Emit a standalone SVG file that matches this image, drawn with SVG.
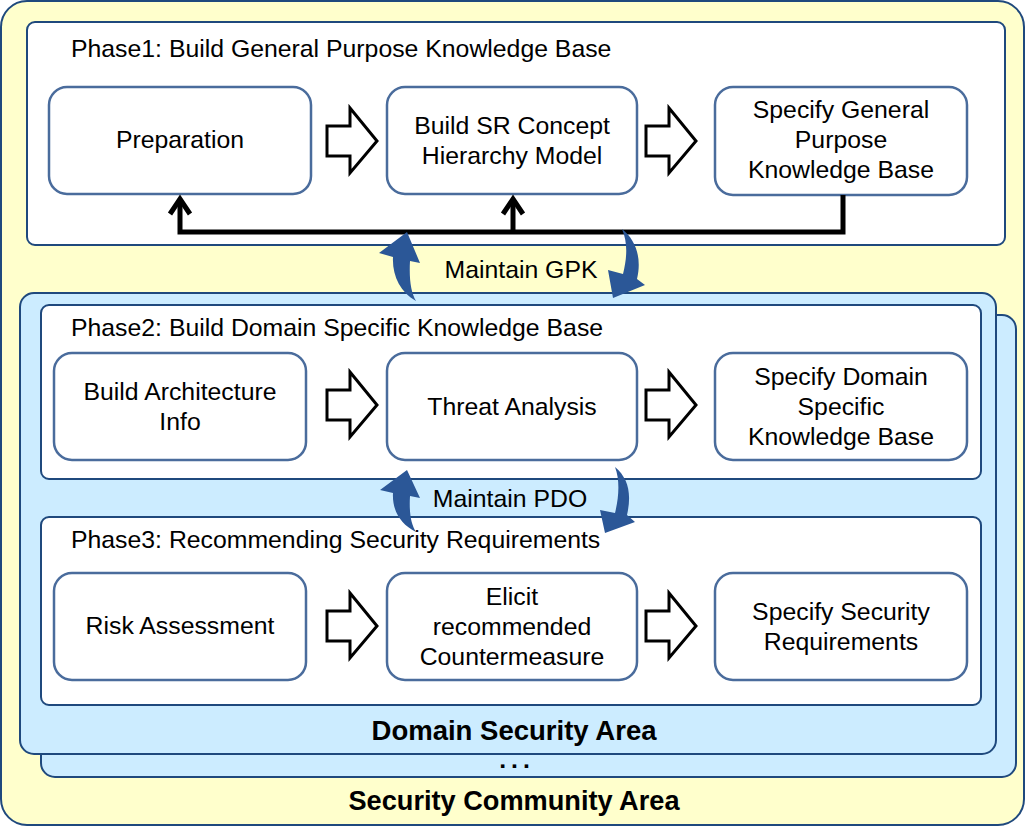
<svg xmlns="http://www.w3.org/2000/svg" xmlns:xlink="http://www.w3.org/1999/xlink" width="1026" height="834" viewBox="0 0 1026 834">
<style>
.area{stroke:#1F497D;stroke-width:2}
.yellow{fill:#FFFFCC}
.blue{fill:#CCECFF}
.phase{fill:#FFFFFF;stroke:#1F497D;stroke-width:2}
.box{fill:#FFFFFF;stroke:#4A6C9C;stroke-width:2.5}
.t{font-family:"Liberation Sans",Arial,sans-serif;font-size:24.8px;fill:#000}
.c{text-anchor:middle}
.b{font-weight:bold;font-size:28px}
.hollow{fill:#FFFFFF;stroke:#000;stroke-width:3;stroke-linejoin:miter}
.fb{fill:none;stroke:#000;stroke-width:5;stroke-linejoin:miter}
.curve{fill:#2B5797}
</style>
<defs>
<path id="harrow" d="M0 -15 L23 -15 L23 -33 L50 0 L23 32 L23 15 L0 15 Z"/>
<marker id="chev" markerUnits="userSpaceOnUse" markerWidth="40" markerHeight="40" refX="0" refY="0" orient="auto" overflow="visible">
<path d="M-15 -10 L0 0 L-15 10" fill="none" stroke="#000" stroke-width="5"/>
</marker>
</defs>

<g id="security-community-area">
<rect class="area yellow" x="1" y="1" width="1023" height="824" rx="26"/>
<text class="t b c" x="514" y="810" textLength="331" lengthAdjust="spacingAndGlyphs">Security Community Area</text>
</g>
<g id="domain-security-area-back">
<rect class="area blue" x="41" y="315" width="975" height="462" rx="14"/>
<text class="t c" x="517" y="768" font-size="18" font-weight="bold" letter-spacing="5">...</text>
</g>
<g id="domain-security-area">
<rect class="area blue" x="20" y="293" width="976" height="461" rx="14"/>
<text class="t b c" x="514" y="740" textLength="285" lengthAdjust="spacingAndGlyphs">Domain Security Area</text>
</g>

<g id="phase1">
<rect class="phase" x="27" y="22" width="978" height="223" rx="8"/>
<text class="t" x="71" y="57">Phase1: Build General Purpose Knowledge Base</text>
</g>
<g id="phase2">
<rect class="phase" x="41" y="305" width="940" height="174" rx="8"/>
<text class="t" x="71" y="336">Phase2: Build Domain Specific Knowledge Base</text>
</g>
<g id="phase3">
<rect class="phase" x="41" y="517" width="940" height="188" rx="8"/>
<text class="t" x="71" y="548">Phase3: Recommending Security Requirements</text>
</g>

<g id="preparation">
<rect class="box" x="49" y="87" width="262" height="107" rx="18"/>
<text class="t c" x="180" y="148">Preparation</text>
</g>
<g id="build-sr-concept">
<rect class="box" x="387" y="87" width="250" height="107" rx="18"/>
<text class="t c" x="512" y="134">Build SR Concept</text>
<text class="t c" x="512" y="164">Hierarchy Model</text>
</g>
<g id="specify-gpk">
<rect class="box" x="715" y="87" width="252" height="108" rx="18"/>
<text class="t c" x="841" y="118">Specify General</text>
<text class="t c" x="841" y="148">Purpose</text>
<text class="t c" x="841" y="178">Knowledge Base</text>
</g>

<g id="build-architecture-info">
<rect class="box" x="54" y="353" width="252" height="107" rx="18"/>
<text class="t c" x="180" y="400">Build Architecture</text>
<text class="t c" x="180" y="430">Info</text>
</g>
<g id="threat-analysis">
<rect class="box" x="387" y="353" width="250" height="107" rx="18"/>
<text class="t c" x="512" y="415">Threat Analysis</text>
</g>
<g id="specify-dsk">
<rect class="box" x="715" y="353" width="252" height="107" rx="18"/>
<text class="t c" x="841" y="385">Specify Domain</text>
<text class="t c" x="841" y="415">Specific</text>
<text class="t c" x="841" y="445">Knowledge Base</text>
</g>

<g id="risk-assessment">
<rect class="box" x="54" y="573" width="252" height="107" rx="18"/>
<text class="t c" x="180" y="634">Risk Assessment</text>
</g>
<g id="elicit-countermeasure">
<rect class="box" x="387" y="573" width="250" height="107" rx="18"/>
<text class="t c" x="512" y="605">Elicit</text>
<text class="t c" x="512" y="635">recommended</text>
<text class="t c" x="512" y="665">Countermeasure</text>
</g>
<g id="specify-security-requirements">
<rect class="box" x="715" y="573" width="252" height="107" rx="18"/>
<text class="t c" x="841" y="620">Specify Security</text>
<text class="t c" x="841" y="650">Requirements</text>
</g>

<g id="connectors">
<use xlink:href="#harrow" class="hollow" transform="translate(327,141)"/>
<use xlink:href="#harrow" class="hollow" transform="translate(646,141)"/>
<use xlink:href="#harrow" class="hollow" transform="translate(327,405)"/>
<use xlink:href="#harrow" class="hollow" transform="translate(646,405)"/>
<use xlink:href="#harrow" class="hollow" transform="translate(327,626)"/>
<use xlink:href="#harrow" class="hollow" transform="translate(646,626)"/>
<path class="fb" d="M843 195 V232 H180 V199" marker-end="url(#chev)"/>
<path class="fb" d="M513 232 V199" marker-end="url(#chev)"/>
<path class="curve" d="M416 301 C411 292 409 280 410 261 L420 263 L407 232 L379 253 L393 257 C392 275 400 292 416 301 Z"/>
<path class="curve" d="M622 229 C636 240 642 258 637 279 L645 285 L613 298 L608 270 L623 274 C627 258 628 243 622 229 Z"/>
<path class="curve" d="M416 532 C411 524 409 513 410 496 L420 498 L407 470 L380 490 L393 493 C392 510 400 524 416 532 Z"/>
<path class="curve" d="M615 467 C628 478 632 493 627 515 L635 522 L605 533 L600 510 L615 513 C619 497 620 480 615 467 Z"/>
<text class="t c" x="521" y="278">Maintain GPK</text>
<text class="t c" x="510" y="507">Maintain PDO</text>
</g>
</svg>
